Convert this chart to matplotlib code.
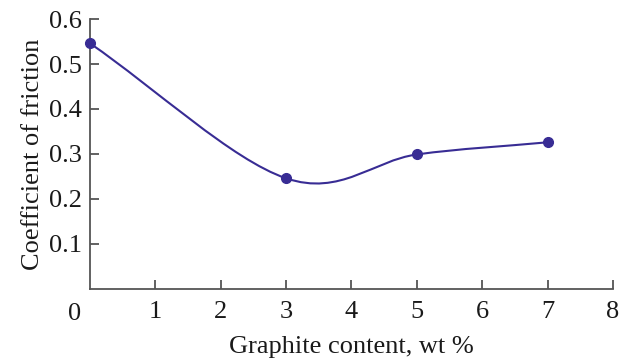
import matplotlib.pyplot as plt
import numpy as np
from matplotlib.path import Path
from matplotlib.patches import PathPatch

# Datos
graphite = [0.0, 3.0, 5.0, 7.0]          # wt %
friction = [0.546, 0.246, 0.299, 0.326]  # coeficiente de fricción

x_ticks = [1, 2, 3, 4, 5, 6, 7, 8]
y_ticks = [0.1, 0.2, 0.3, 0.4, 0.5, 0.6]

color = '#382c94'
axis_color = '#555555'
text_color = '#1a1a1a'

plt.rcParams['font.family'] = ['Liberation Serif', 'DejaVu Serif']

fig = plt.figure(figsize=(6.27, 3.62), dpi=100)
ax = fig.add_axes([0.1435, 0.2017, 0.8342, 0.7458])


def smooth_path(x, y):
    # Curva suave (Bezier cúbica, tangentes tipo Catmull-Rom) que pasa por los puntos
    pts = np.column_stack([x, y])
    n = len(pts)
    tang = []
    for i in range(n):
        if i == 0:
            tang.append((pts[1] - pts[0]) / 3)
        elif i == n - 1:
            tang.append((pts[-1] - pts[-2]) / 3)
        else:
            tang.append((pts[i + 1] - pts[i - 1]) / 6)
    verts = [pts[0]]
    codes = [Path.MOVETO]
    for i in range(n - 1):
        verts += [pts[i] + tang[i], pts[i + 1] - tang[i + 1], pts[i + 1]]
        codes += [Path.CURVE4] * 3
    return Path(verts, codes)


ax.add_patch(PathPatch(smooth_path(graphite, friction), facecolor='none',
                       edgecolor=color, lw=1.5, clip_on=False))
ax.plot(graphite, friction, 'o', color=color, ms=7, clip_on=False, zorder=3)

ax.set_xlim(0, 8)
ax.set_ylim(0, 0.6)
ax.set_xticks(x_ticks)
ax.set_yticks(y_ticks)
ax.set_yticklabels([f'{v:.1f}' for v in y_ticks])

for s in ['top', 'right']:
    ax.spines[s].set_visible(False)
for s in ['left', 'bottom']:
    ax.spines[s].set_color(axis_color)
    ax.spines[s].set_linewidth(1.3)

ax.tick_params(direction='in', length=6.5, width=1.3, color=axis_color,
               labelsize=19, labelcolor=text_color)
ax.tick_params(axis='x', pad=9)
ax.tick_params(axis='y', pad=6)
ax.annotate('0', xy=(0, 0), xycoords='data', xytext=(-11, -10),
            textcoords='offset points', ha='center', va='top',
            fontsize=19, color=text_color)

ax.set_xlabel('Graphite content, wt %', fontsize=19, color=text_color, labelpad=9)
ax.set_ylabel('Coefficient of friction', fontsize=19, color=text_color, labelpad=3)

fig.savefig('out.png', dpi=100)
